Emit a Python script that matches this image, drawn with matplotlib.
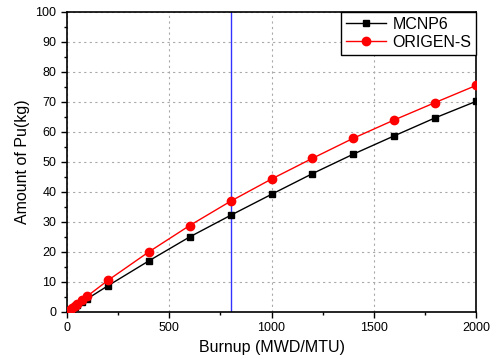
import matplotlib
matplotlib.use("Agg")
import matplotlib.pyplot as plt
from matplotlib.ticker import MultipleLocator

plt.rcParams['font.family'] = ['Liberation Sans', 'DejaVu Sans']

burnup = [0, 12.5, 25, 37.5, 50, 75, 100, 200, 400, 600, 800, 1000, 1200, 1400, 1600, 1800, 2000]
mcnp6 = [0, 0.55, 1.1, 1.65, 2.2, 3.3, 4.4, 8.7, 17.0, 25.0, 32.2, 39.2, 46.1, 52.6, 58.7, 64.7, 70.2]
origen = [0, 0.65, 1.3, 2.0, 2.65, 4.0, 5.3, 10.5, 20.0, 28.8, 36.9, 44.3, 51.2, 57.9, 64.0, 69.8, 75.5]
marker_line = 800

fig = plt.figure(figsize=(4.96, 3.61), dpi=100)
ax = fig.add_axes([0.135, 0.136, 0.825, 0.831])

ax.plot(burnup, mcnp6, color='black', marker='s', markersize=5, lw=1, label='MCNP6', zorder=3)
ax.plot(burnup, origen, color='red', marker='o', markersize=6, lw=1, label='ORIGEN-S', zorder=3)
ax.axvline(marker_line, color='#3333ff', lw=1, zorder=2)

ax.set_xlim(0, 2000)
ax.set_ylim(0, 100)
ax.xaxis.set_major_locator(MultipleLocator(500))
ax.xaxis.set_minor_locator(MultipleLocator(250))
ax.yaxis.set_major_locator(MultipleLocator(10))
ax.yaxis.set_minor_locator(MultipleLocator(5))
ax.grid(True, which='major', color='#aaaaaa', linestyle=(0, (2, 3)), lw=0.8)
ax.tick_params(which='major', direction='out', length=4, width=1, labelsize=9)
ax.tick_params(which='minor', direction='out', length=2.5, width=1)
for s in ax.spines.values():
    s.set_linewidth(1.2)

ax.set_xlabel('Burnup (MWD/MTU)', fontsize=11.5)
ax.set_ylabel('Amount of Pu(kg)', fontsize=11.5)

leg = ax.legend(loc='upper right', fontsize=11.5, frameon=True, fancybox=False,
                edgecolor='black', borderaxespad=0, handlelength=2.5,
                borderpad=0.3, labelspacing=0.2, handletextpad=0.4)
leg.get_frame().set_linewidth(1)
leg.get_frame().set_alpha(1)

fig.savefig('out.png', dpi=100)
